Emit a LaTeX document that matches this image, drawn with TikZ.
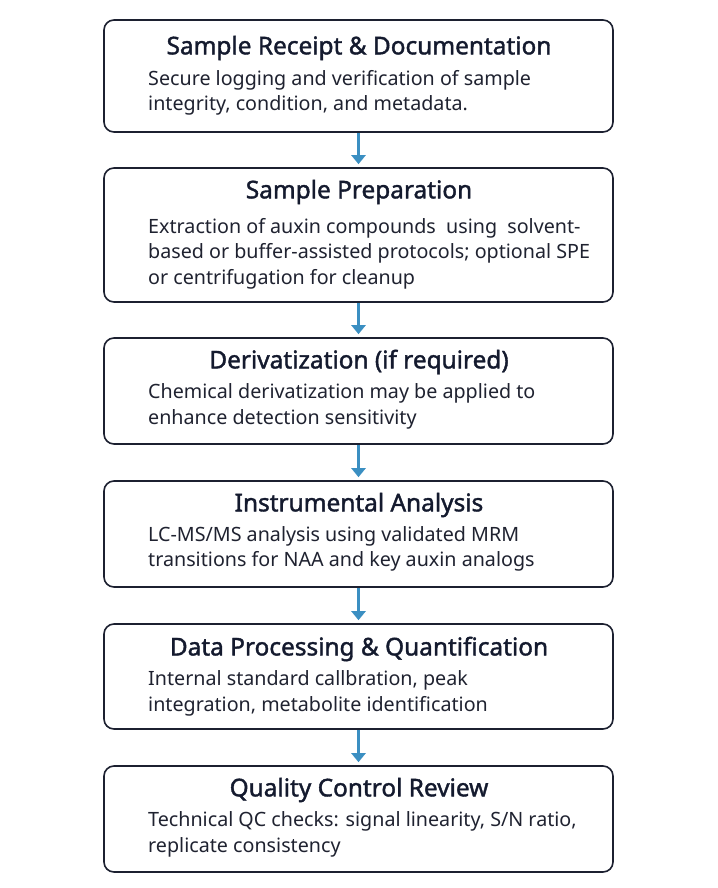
\documentclass[tikz,border=0pt]{standalone}
\usepackage{fontspec}
\setmainfont{Noto Sans}
\newfontfamily\titlefont{Noto Sans}[FakeBold=1.6]
\usetikzlibrary{arrows.meta}

\definecolor{boxline}{HTML}{1C2030}
\definecolor{titlec}{HTML}{141A2E}
\definecolor{bodyc}{HTML}{1F2230}
\definecolor{arrowc}{HTML}{3B8FC2}

\tikzstyle{bS}=[rounded corners=10pt,draw=boxline,line width=1.6pt,minimum width=509pt,inner sep=0pt]
\tikzstyle{tS}=[inner sep=0pt,text=titlec,font=\titlefont\fontsize{24.4}{28}\selectfont]
\tikzstyle{dS}=[inner sep=0pt,anchor=west,align=left,text=bodyc,font=\fontsize{19.7}{25.5}\selectfont]
\tikzstyle{aS}=[line width=2.6pt,draw=arrowc,shorten >=3pt,-{Triangle[width=14pt,length=9pt]}]

\begin{document}
\begin{tikzpicture}[x=1pt,y=-1pt]
    \useasboundingbox (0,0) rectangle (717,888);
    \draw (358.5,76) node[bS,minimum height=112pt] (receipt){} ;
    \draw (358.5,235) node[bS,minimum height=134pt] (prep){} ;
    \draw (358.5,391) node[bS,minimum height=106pt] (deriv){} ;
    \draw (358.5,534) node[bS,minimum height=106pt] (instr){} ;
    \draw (358.5,676.5) node[bS,minimum height=105pt] (quant){} ;
    \draw (358.5,819) node[bS,minimum height=106pt] (qc){} ;

    \draw (359,48) node[tS] (receiptT) {Sample Receipt \& Documentation};
    \draw (148,93) node[dS] (receiptD) {Secure logging and verification of sample\\integrity, condition, and metadata.};

    \draw (359,192) node[tS] (prepT) {Sample Preparation};
    \draw (148,253.5) node[dS] (prepD) {Extraction of auxin compounds\ \ using\ \ solvent-\\based or buffer-assisted protocols; optional SPE\\or centrifugation for cleanup};

    \draw (359,362) node[tS] (derivT) {Derivatization (if required)};
    \draw (148,406.5) node[dS] (derivD) {Chemical derivatization may be applied to\\enhance detection sensitivity};

    \draw (359,505) node[tS] (instrT) {Instrumental Analysis};
    \draw (148,549) node[dS] (instrD) {LC-MS/MS analysis using validated MRM\\transitions for NAA and key auxin analogs};

    \draw (359,649) node[tS] (quantT) {Data Processing \& Quantification};
    \draw (148,693.5) node[dS] (quantD) {Internal standard callbration, peak\\integration, metabolite identification};

    \draw (359,790) node[tS] (qcT) {Quality Control Review};
    \draw (148,834.5) node[dS] (qcD) {Technical QC checks: signal linearity, S/N ratio,\\replicate consistency};

    \path
        (receipt) edge[aS] (prep)
        (prep) edge[aS] (deriv)
        (deriv) edge[aS] (instr)
        (instr) edge[aS] (quant)
        (quant) edge[aS] (qc)
    ;
\end{tikzpicture}
\end{document}
